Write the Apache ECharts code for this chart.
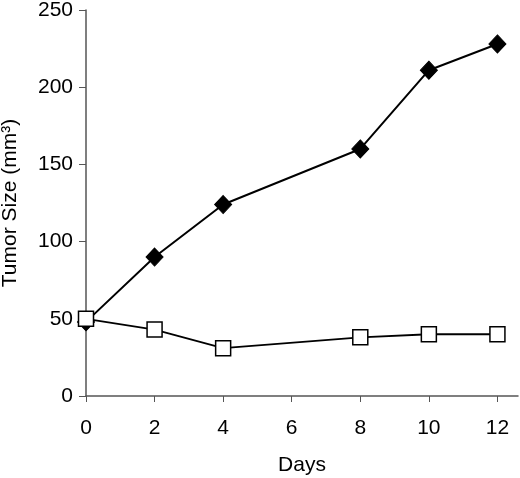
<!DOCTYPE html>
<html>
<head>
<meta charset="utf-8">
<script src="https://cdn.jsdelivr.net/npm/echarts@6/dist/echarts.min.js"></script>
<style>html,body{margin:0;padding:0;background:#fff}#c{width:520px;height:478px}</style>
</head>
<body>
<div id="c"></div>
<script>
const days = [0, 2, 4, 8, 10, 12];
const treatedValues = [48, 90, 124, 160, 211, 228];
const controlValues = [50, 43, 31, 38, 40, 40];
const xTicks = [0, 2, 4, 6, 8, 10, 12];
const yTicks = [0, 50, 100, 150, 200, 250];

const chart = echarts.init(document.getElementById('c'));
const font = 'Liberation Sans, Arial, sans-serif';
chart.setOption({
  animation: false,
  backgroundColor: '#fff',
  grid: { left: 86, right: 2, top: 10, bottom: 82, containLabel: false, outerBoundsMode: 'none' },
  xAxis: {
    type: 'value', min: 0, max: 12.6,
    name: 'Days', nameLocation: 'middle', nameGap: 59,
    nameTextStyle: { fontFamily: font, fontSize: 21, color: '#000' },
    axisLine: { lineStyle: { color: '#555', width: 1.5 } },
    axisTick: { show: true, length: 6, customValues: xTicks, lineStyle: { color: '#555' } },
    axisLabel: { customValues: xTicks, margin: 22, fontFamily: font, fontSize: 21, color: '#000' },
    splitLine: { show: false }
  },
  yAxis: {
    type: 'value', min: 0, max: 250, interval: 50,
    name: 'Tumor Size (mm³)', nameLocation: 'middle', nameGap: 65,
    nameTextStyle: { fontFamily: font, fontSize: 21, color: '#000' },
    axisLine: { show: true, lineStyle: { color: '#555', width: 1.5 } },
    axisTick: { show: true, length: 7, lineStyle: { color: '#555' } },
    axisLabel: { customValues: yTicks, margin: 13, fontFamily: font, fontSize: 21, color: '#000' },
    splitLine: { show: false }
  },
  series: [
    {
      type: 'line', name: 'treated',
      data: days.map((d, i) => [d, treatedValues[i]]),
      symbol: 'diamond', symbolSize: [17, 18],
      itemStyle: { color: '#000', borderColor: '#000' },
      lineStyle: { color: '#000', width: 2 },
      z: 2
    },
    {
      type: 'line', name: 'control',
      data: days.map((d, i) => [d, controlValues[i]]),
      symbol: 'rect', symbolSize: 15,
      itemStyle: { color: '#fff', borderColor: '#000', borderWidth: 1.5 },
      lineStyle: { color: '#000', width: 1.8 },
      z: 3
    }
  ]
});
</script>
</body>
</html>
